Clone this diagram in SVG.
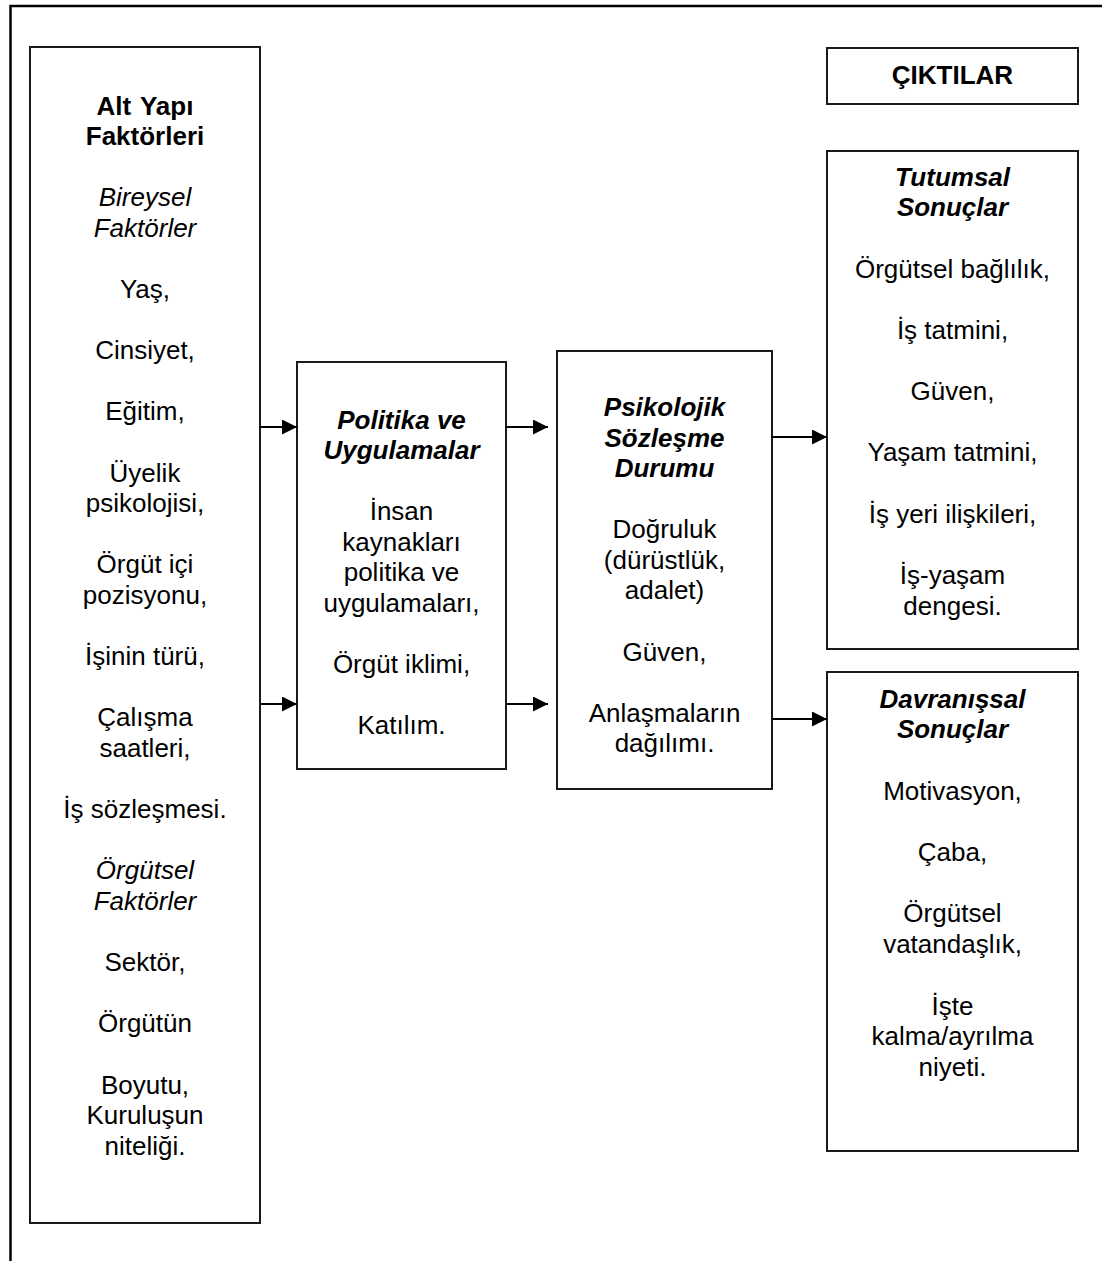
<svg xmlns="http://www.w3.org/2000/svg" width="1102" height="1261" viewBox="0 0 1102 1261">
  <style>
    .frame { fill: none; stroke: #000; stroke-width: 2.5; }
    .box { fill: #fff; stroke: #1a1a1a; stroke-width: 2; }
    .link { stroke: #000; stroke-width: 2.2; fill: none; }
    text { font-family: "Liberation Sans", Arial, sans-serif; font-size: 26px; fill: #000; text-anchor: middle; }
    .b { font-weight: bold; }
    .i { font-style: italic; }
    .bi { font-weight: bold; font-style: italic; }
  </style>
  <defs>
    <marker id="arrow" markerWidth="15" markerHeight="15" refX="15" refY="7.5" orient="auto" markerUnits="userSpaceOnUse">
      <path d="M0,0 L15,7.5 L0,15 Z" fill="#000"/>
    </marker>
  </defs>

  <!-- page frame (top and left edges) -->
  <path class="frame" d="M10.5,1261 V6 H1102"/>

  <!-- infrastructure factors -->
  <g id="alt-yapi">
    <rect class="box" x="30" y="47" width="230" height="1176"/>
    <text class="b" x="145" y="115" word-spacing="2">Alt Yapı</text>
    <text class="b" x="145" y="145">Faktörleri</text>
    <text class="i" x="145" y="206">Bireysel</text>
    <text class="i" x="145" y="237">Faktörler</text>
    <text x="145" y="298">Yaş,</text>
    <text x="145" y="359">Cinsiyet,</text>
    <text x="145" y="420">Eğitim,</text>
    <text x="145" y="482">Üyelik</text>
    <text x="145" y="512">psikolojisi,</text>
    <text x="145" y="573">Örgüt içi</text>
    <text x="145" y="604">pozisyonu,</text>
    <text x="145" y="665">İşinin türü,</text>
    <text x="145" y="726">Çalışma</text>
    <text x="145" y="757">saatleri,</text>
    <text x="145" y="818">İş sözleşmesi.</text>
    <text class="i" x="145" y="879">Örgütsel</text>
    <text class="i" x="145" y="910">Faktörler</text>
    <text x="145" y="971">Sektör,</text>
    <text x="145" y="1032">Örgütün</text>
    <text x="145" y="1094">Boyutu,</text>
    <text x="145" y="1124">Kuruluşun</text>
    <text x="145" y="1155">niteliği.</text>
  </g>

  <!-- policies and practices -->
  <g id="politika">
    <rect class="box" x="297" y="362" width="209" height="407"/>
    <text class="bi" x="401.5" y="429">Politika ve</text>
    <text class="bi" x="401.5" y="459">Uygulamalar</text>
    <text x="401.5" y="520">İnsan</text>
    <text x="401.5" y="551">kaynakları</text>
    <text x="401.5" y="581">politika ve</text>
    <text x="401.5" y="612">uygulamaları,</text>
    <text x="401.5" y="673">Örgüt iklimi,</text>
    <text x="401.5" y="734">Katılım.</text>
  </g>

  <!-- psychological contract state -->
  <g id="psikolojik">
    <rect class="box" x="557" y="351" width="215" height="438"/>
    <text class="bi" x="664.5" y="416">Psikolojik</text>
    <text class="bi" x="664.5" y="447">Sözleşme</text>
    <text class="bi" x="664.5" y="477">Durumu</text>
    <text x="664.5" y="538">Doğruluk</text>
    <text x="664.5" y="569">(dürüstlük,</text>
    <text x="664.5" y="599">adalet)</text>
    <text x="664.5" y="661">Güven,</text>
    <text x="664.5" y="722">Anlaşmaların</text>
    <text x="664.5" y="752">dağılımı.</text>
  </g>

  <!-- outputs heading -->
  <g id="ciktilar">
    <rect class="box" x="827" y="48" width="251" height="56"/>
    <text class="b" x="952.5" y="84">ÇIKTILAR</text>
  </g>

  <!-- attitudinal outcomes -->
  <g id="tutumsal">
    <rect class="box" x="827" y="151" width="251" height="498"/>
    <text class="bi" x="952.5" y="186">Tutumsal</text>
    <text class="bi" x="952.5" y="216">Sonuçlar</text>
    <text x="952.5" y="278">Örgütsel bağlılık,</text>
    <text x="952.5" y="339">İş tatmini,</text>
    <text x="952.5" y="400">Güven,</text>
    <text x="952.5" y="461">Yaşam tatmini,</text>
    <text x="952.5" y="523">İş yeri ilişkileri,</text>
    <text x="952.5" y="584">İş-yaşam</text>
    <text x="952.5" y="615">dengesi.</text>
  </g>

  <!-- behavioural outcomes -->
  <g id="davranissal">
    <rect class="box" x="827" y="672" width="251" height="479"/>
    <text class="bi" x="952.5" y="708">Davranışsal</text>
    <text class="bi" x="952.5" y="738">Sonuçlar</text>
    <text x="952.5" y="800">Motivasyon,</text>
    <text x="952.5" y="861">Çaba,</text>
    <text x="952.5" y="922">Örgütsel</text>
    <text x="952.5" y="953">vatandaşlık,</text>
    <text x="952.5" y="1015">İşte</text>
    <text x="952.5" y="1045">kalma/ayrılma</text>
    <text x="952.5" y="1076">niyeti.</text>
  </g>

  <!-- connectors -->
  <g id="connectors">
    <line class="link" x1="260" y1="427" x2="297" y2="427" marker-end="url(#arrow)"/>
    <line class="link" x1="260" y1="704" x2="297" y2="704" marker-end="url(#arrow)"/>
    <line class="link" x1="506" y1="427" x2="548" y2="427" marker-end="url(#arrow)"/>
    <line class="link" x1="506" y1="704" x2="548" y2="704" marker-end="url(#arrow)"/>
    <line class="link" x1="772" y1="437" x2="827" y2="437" marker-end="url(#arrow)"/>
    <line class="link" x1="772" y1="719" x2="827" y2="719" marker-end="url(#arrow)"/>
  </g>
</svg>
